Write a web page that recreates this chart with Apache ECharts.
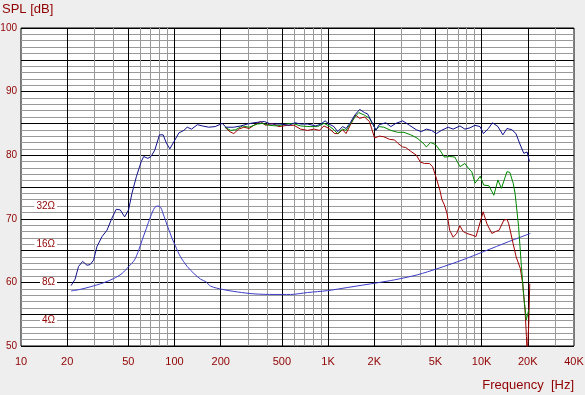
<!DOCTYPE html>
<html>
<head>
<meta charset="utf-8">
<script src="https://cdn.jsdelivr.net/npm/echarts@6/dist/echarts.min.js"></script>
<style>
  html, body { margin: 0; padding: 0; background: #eeeeee; }
  #chart { width: 585px; height: 395px; }
</style>
</head>
<body>
<div id="chart"></div>
<script>
// SPL curves, [Hz, dB]
var splBlue = [[21.2,59.5],[22.5,60.5],[23.7,62.5],[25.2,63.3],[26.9,62.7],[28.2,62.8],[29.7,63.5],[31.2,65.6],[33.7,67.2],[36.3,68.2],[39.1,70.1],[41.7,71.5],[44.3,71.4],[47.3,70.3],[50.2,71.4],[52.8,74.0],[56.4,76.6],[60.7,79.0],[63,79.8],[67,79.5],[70.3,79.8],[74.4,80.8],[79.8,83.2],[84.3,83.2],[88.5,81.9],[93.2,81.0],[99,82.1],[106.7,83.5],[115,83.9],[121,84.4],[129,84.1],[141,84.8],[152,84.6],[167,84.4],[184,84.5],[205,85.0],[216,84.4],[243,84.4],[270,84.6],[298,84.9],[329,85.1],[384,85.3],[424,84.9],[492,84.9],[556,84.7],[609,85.1],[662,84.9],[735,84.9],[833,84.6],[899,84.9],[958,85.4],[1015,84.9],[1092,84.5],[1155,83.7],[1243,84.5],[1310,84.2],[1395,85.1],[1493,86.3],[1607,87.2],[1727,86.7],[1808,86.5],[1950,85.0],[2050,83.9],[2153,84.8],[2207,85.1],[2378,85.1],[2565,84.5],[2767,85.0],[3064,85.4],[3393,84.7],[3759,84.0],[4050,83.7],[4373,84.1],[4715,83.9],[5080,83.4],[5476,83.9],[6060,84.4],[6530,84.1],[7230,84.6],[7790,84.1],[8400,84.3],[9060,84.7],[9770,84.5],[10280,83.4],[11080,84.2],[11780,85.1],[12780,84.5],[13770,83.2],[14630,84.2],[15760,84.0],[16740,83.4],[17880,81.6],[18830,80.3],[19810,80.5],[20500,79.0]];

var splGreen = [[213,84.4],[232,83.9],[250,84.0],[277,84.6],[306,84.4],[346,84.9],[373,85.0],[412,84.7],[466,84.6],[531,84.9],[588,85.0],[662,84.6],[752,84.5],[855,84.5],[941,85.0],[1015,84.6],[1092,84.0],[1155,83.4],[1243,84.1],[1310,83.9],[1395,84.9],[1493,86.0],[1586,86.7],[1727,86.3],[1860,85.8],[2050,84.0],[2153,84.5],[2310,84.4],[2565,83.9],[2840,83.6],[3120,83.6],[3460,83.2],[3800,82.7],[4160,81.9],[4370,81.3],[4650,82.0],[4990,81.7],[5350,80.8],[5720,79.7],[6200,79.8],[6700,79.7],[7230,78.2],[7790,78.7],[8230,77.9],[8640,77.4],[9060,75.6],[9400,76.1],[9800,76.7],[10330,75.3],[11160,75.2],[12020,73.7],[12780,76.1],[13470,74.8],[14630,77.4],[15280,77.3],[16070,75.6],[16530,74.0],[17420,68.8],[18180,62.5],[18830,57.8],[19550,54.1],[20000,54.4],[20300,55.7]];

var splRed = [[213,84.4],[229,83.7],[243,83.4],[262,84.1],[283,84.4],[306,84.2],[329,84.7],[363,85.3],[392,84.7],[433,85.0],[479,84.5],[543,84.7],[600,84.7],[662,84.1],[735,83.9],[812,84.1],[877,83.9],[941,84.6],[1015,84.2],[1106,83.4],[1164,83.4],[1243,84.0],[1310,83.4],[1395,84.7],[1510,86.3],[1607,85.8],[1727,86.0],[1860,85.3],[2010,82.7],[2153,83.0],[2310,82.9],[2510,82.5],[2710,82.4],[2840,81.9],[3060,81.3],[3210,81.2],[3460,80.6],[3760,80.0],[4000,78.9],[4250,78.7],[4570,78.7],[4800,78.2],[5070,76.4],[5350,74.5],[5520,73.0],[5720,72.2],[5950,70.9],[6200,68.2],[6530,67.1],[6880,67.7],[7220,68.9],[7590,68.0],[8000,67.7],[8770,67.4],[9200,67.2],[9800,69.5],[10240,71.1],[10840,69.2],[11660,67.7],[12350,68.0],[13000,68.2],[13970,69.8],[14630,69.9],[15000,69.3],[16050,66.1],[16800,64.0],[17880,62.2],[18530,59.8],[19190,55.6],[19600,51.5],[19810,48],[20300,53.6],[20600,59.8]];

// impedance curve, [Hz, ohm]
var impedance = [[21.2,6.85],[24.3,7.05],[28.2,7.38],[34.5,7.95],[40.1,8.57],[45.5,9.40],[50.3,10.67],[54.8,11.97],[58.5,14.39],[61.6,17.3],[65.6,21.3],[69.7,26.2],[74.4,31.1],[77.8,31.9],[81.2,31.1],[85.4,26.5],[89.6,22.5],[96.5,17.7],[101.5,15.4],[109.4,12.7],[121,10.67],[133.7,9.40],[148,8.47],[160,8.1],[172,7.47],[205,7.05],[257,6.73],[329,6.50],[445,6.43],[570,6.43],[735,6.66],[990,6.89],[1345,7.30],[2100,7.95],[2710,8.38],[3820,9.18],[5200,10.3],[7450,11.97],[10450,14.06],[14950,16.7],[20800,19.4]];

var freqMajor = [20, 50, 100, 200, 500, 1000, 2000, 5000, 10000, 20000];
var freqMinor = [30, 40, 60, 70, 80, 90, 300, 400, 600, 700, 800, 900, 3000, 4000, 6000, 7000, 8000, 9000, 30000];
var freqLabels = [10, 20, 50, 100, 200, 500, 1000, 2000, 5000, 10000, 20000, 40000];
var ohmLabels = [4, 8, 16, 32];

// 8 ohm sits on 60 dB, 6 dB per doubling
function ohmToDb(z) { return 60 + 20 * Math.log10(z / 8); }
function hzText(f) { return f >= 1000 ? (f / 1000) + 'K' : String(f); }

var red = '#900000';
var font = 'Liberation Sans';
var lgMin = 1, lgMax = Math.log10(40000);

var chart = echarts.init(document.getElementById('chart'));
var option = {
  backgroundColor: '#eeeeee',
  animation: false,
  title: [
    { text: 'SPL [dB]', left: 2, top: 3, padding: 0,
      textStyle: { color: red, fontSize: 13, fontWeight: 'normal', fontFamily: font } },
    { text: 'Frequency  [Hz]', right: 11, top: 379, padding: 0,
      textStyle: { color: red, fontSize: 13, fontWeight: 'normal', fontFamily: font } }
  ],
  grid: { left: 21, top: 28, right: 11, bottom: 49, show: true, outerBoundsMode: 'none',
    containLabel: false, backgroundColor: '#ffffff', borderColor: '#000', borderWidth: 1 },
  xAxis: [
    { type: 'log', logBase: 10, min: 10, max: 40000, position: 'bottom',
      axisLine: { show: false }, axisTick: { show: false }, axisLabel: { show: false }, splitLine: { show: false } },
    { type: 'value', min: lgMin, max: lgMax, position: 'bottom',
      axisLine: { show: false }, axisLabel: { show: false },
      axisTick: { show: false, customValues: freqMinor.map(Math.log10) },
      splitLine: { show: true, lineStyle: { color: '#999', width: 1 } } },
    { type: 'value', min: lgMin, max: lgMax, position: 'bottom',
      axisLine: { show: false },
      axisTick: { show: false, customValues: freqMajor.map(Math.log10) },
      axisLabel: { customValues: freqLabels.map(Math.log10), margin: 10, color: red, fontSize: 11,
        fontFamily: font,
        formatter: function (v) { return hzText(Math.round(Math.pow(10, v))); } },
      splitLine: { show: true, lineStyle: { color: '#000', width: 1 } } }
  ],
  yAxis: [
    { type: 'value', min: 50, max: 100, interval: 1, position: 'left',
      axisLine: { show: false }, axisTick: { show: false }, axisLabel: { show: false },
      splitLine: { show: true, lineStyle: { color: '#999', width: 1 } } },
    { type: 'value', min: 50, max: 100, interval: 5, position: 'left',
      axisLine: { show: false }, axisTick: { show: false },
      axisLabel: { margin: 4, color: red, fontSize: 10, fontFamily: font,
        formatter: function (v) { return v % 10 === 0 ? String(v) : ''; } },
      splitLine: { show: true, lineStyle: { color: '#000', width: 1 } } },
    { type: 'value', min: 50, max: 100, position: 'left', offset: -39,
      axisLine: { show: false }, axisTick: { show: false }, splitLine: { show: false },
      axisLabel: { customValues: ohmLabels.map(ohmToDb), margin: 3, color: red, fontSize: 10,
        fontFamily: font, backgroundColor: '#ffffff', padding: [0, 2],
        formatter: function (v) { return Math.round(8 * Math.pow(10, (v - 60) / 20)) + 'Ω'; } } }
  ],
  series: [
    { name: 'impedance', type: 'line', xAxisIndex: 0, yAxisIndex: 0, showSymbol: false, smooth: 0.3,
      lineStyle: { color: '#3c3cc8', width: 1 },
      data: impedance.map(function (p) { return [p[0], ohmToDb(p[1])]; }) },
    { name: 'red', type: 'line', xAxisIndex: 0, yAxisIndex: 0, showSymbol: false,
      lineStyle: { color: '#a00000', width: 1 }, data: splRed },
    { name: 'green', type: 'line', xAxisIndex: 0, yAxisIndex: 0, showSymbol: false,
      lineStyle: { color: '#008800', width: 1 }, data: splGreen },
    { name: 'blue', type: 'line', xAxisIndex: 0, yAxisIndex: 0, showSymbol: false,
      lineStyle: { color: '#10108c', width: 1 }, data: splBlue }
  ]
};
chart.setOption(option);
</script>
</body>
</html>
